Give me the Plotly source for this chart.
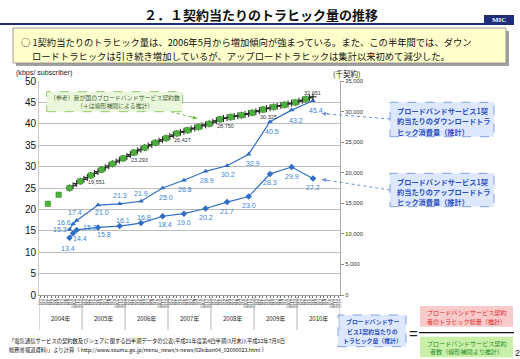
import plotly.graph_objects as go
import pandas as pd

# ---------------- data ----------------
years = [2004, 2005, 2006, 2007, 2008, 2009, 2010]
month_names = [f"{m}月" for m in range(1, 13)]

traffic_months = ["2004-09", "2004-10", "2004-11", "2005-05", "2005-11", "2006-05", "2006-11",
                  "2007-05", "2007-11", "2008-05", "2008-11", "2009-05", "2009-11", "2010-05"]
download_kbps = [15.3, 16.6, 17.4, 21.0, 21.3, 21.9, 25.0, 26.8, 28.9, 30.2, 32.9, 40.5, 43.2, 45.4]
upload_kbps = [13.4, 14.4, 15.2, 15.8, 16.1, 16.8, 18.4, 19.0, 20.2, 21.7, 23.0, 28.3, 29.9, 27.2]

quarter_months = ["2004-03", "2004-06", "2004-09", "2004-12", "2005-03", "2005-06", "2005-09", "2005-12",
                  "2006-03", "2006-06", "2006-09", "2006-12", "2007-03", "2007-06", "2007-09", "2007-12",
                  "2008-03", "2008-06", "2008-09", "2008-12", "2009-03", "2009-06", "2009-09", "2009-12",
                  "2010-03"]
subscribers_k = [14920, 16400, 17500, 18600, 19551, 20500, 21450, 22350,
                 23293, 24100, 24900, 25650, 26427, 26950, 27480, 28000,
                 28750, 29100, 29400, 29800, 30325, 30750, 31100, 31500,
                 32051]

est_first, est_last = "2004-09", "2010-05"
est_subscribers_k = [17500, 17867, 18233, 18600,
                     18917, 19234, 19551, 19867, 20184, 20500, 20817, 21133, 21450, 21750, 22050, 22350,
                     22664, 22979, 23293, 23562, 23831, 24100, 24367, 24633, 24900, 25150, 25400, 25650,
                     25909, 26168, 26427, 26601, 26776, 26950, 27127, 27303, 27480, 27653, 27827, 28000,
                     28250, 28500, 28750, 28867, 28983, 29100, 29200, 29300, 29400, 29533, 29667, 29800,
                     29975, 30150, 30325, 30467, 30608, 30750, 30867, 30983, 31100, 31233, 31367, 31500,
                     31684, 31867, 32051, 32235, 32419]
labelled_quarters = ["2005-03", "2006-03", "2007-03", "2008-03", "2009-03"]
end_label_quarter = "2010-03"

# label offsets (pixels, x right / y up) for the value labels
dl_label_shift = [(-9, 0), (-9, 1), (-2, 8), (4, -7), (0, 8), (0, 8), (3, -9), (1, -9), (1, -9),
                  (1, -9), (4, -9), (2, -10), (4, -10), (3, -10)]
ul_label_shift = [(-1, -11), (7, -5), (13, 2), (6, -7), (3, 6), (3, 6), (2, -8), (0, -9), (0, -9),
                  (0, -9), (0, -9), (0, -9), (0, -9), (0, -9)]

# ---------------- geometry helpers ----------------
W, H = 520, 359
L, R, T, B = 39, 340, 81, 295
JP = "Noto Sans CJK JP, Liberation Sans, sans-serif"
LAT = "Liberation Sans, Noto Sans CJK JP, sans-serif"


def px(x):
    return (x - L) / (R - L)


def py(y):
    return (B - y) / (B - T)


def mid(m):
    p = pd.Period(m, "M")
    return p.start_time + (p.end_time - p.start_time) / 2


est_months = [str(p) for p in pd.period_range(est_first, est_last, freq="M")]
all_months = [f"{y}-{m:02d}" for y in years for m in range(1, 13)]

BLUE = "#2f6ec4"
BLUE_T = "#3b84d8"

fig = go.Figure()
fig.add_trace(go.Scatter(
    x=[mid(m) for m in est_months], y=est_subscribers_k, yaxis="y2", mode="lines+markers",
    line=dict(color="#3a3a3a", width=1),
    marker=dict(symbol="cross-thin", size=5, line=dict(color="#202020", width=1)),
    hoverinfo="skip"))
fig.add_trace(go.Scatter(
    x=[mid(m) for m in quarter_months], y=subscribers_k, yaxis="y2", mode="markers",
    marker=dict(symbol="square", size=5.5, color="#4cb03c", line=dict(color="#3a8f2a", width=0.5))))
fig.add_trace(go.Scatter(
    x=[mid(m) for m in traffic_months], y=download_kbps, mode="lines+markers",
    line=dict(color=BLUE, width=1.2), marker=dict(symbol="triangle-up", size=5, color=BLUE)))
fig.add_trace(go.Scatter(
    x=[mid(m) for m in traffic_months], y=upload_kbps, mode="lines+markers",
    line=dict(color=BLUE, width=1.2), marker=dict(symbol="diamond", size=5, color=BLUE)))

shapes = []
ann = []

for series, shifts in ((download_kbps, dl_label_shift), (upload_kbps, ul_label_shift)):
    for m, v, (dx, dy) in zip(traffic_months, series, shifts):
        ann.append(dict(xref="x", yref="y", x=mid(m), y=v, text=f"{v:.1f}", showarrow=False,
                        xshift=dx, yshift=dy, font=dict(family=LAT, size=7, color=BLUE_T)))


def rect(x0, y0, x1, y1, fill, line=None, width=0.8, dash="solid"):
    shapes.append(dict(type="rect", xref="paper", yref="paper", x0=px(x0), x1=px(x1), y0=py(y1), y1=py(y0),
                       fillcolor=fill, line=dict(color=line or fill, width=width if line else 0, dash=dash),
                       layer="above"))


def text(x, y, s, size, color="#111", family=JP, xanchor="center", align="center"):
    ann.append(dict(xref="paper", yref="paper", x=px(x), y=py(y), text=s, showarrow=False, align=align,
                    xanchor=xanchor, yanchor="middle", font=dict(family=family, size=size, color=color)))


def dotted(x0, y0, x1, y1, color, ax, ay):
    shapes.append(dict(type="line", xref="paper", yref="paper", x0=px(x0), y0=py(y0), x1=px(x1), y1=py(y1),
                       line=dict(color=color, width=1, dash="dot"), layer="above"))
    ann.append(dict(xref="paper", yref="paper", x=px(x1), y=py(y1), text="", showarrow=True,
                    ax=ax, ay=ay, arrowhead=2, arrowsize=0.8, arrowwidth=1, arrowcolor=color))


# header
text(261, 14, "<b>２．１契約当たりのトラヒック量の推移</b>", 13)
shapes.append(dict(type="line", xref="paper", yref="paper", x0=px(0), x1=px(486), y0=py(24), y1=py(24),
                   line=dict(color="#1f2d7b", width=2)))
rect(484, 15, 514, 25, "#1f2d7b")
text(499, 20.3, "<b>MIC</b>", 7, "#ffffff", "Liberation Serif, serif")
rect(16, 31, 509, 66, "#a0a0a0")
rect(13, 28, 506, 63, "#ffffcc", "#8c8c8c", 0.8)
text(19, 42.2, "○ 1契約当たりのトラヒック量は、2006年5月から増加傾向が強まっている。また、この半年間では、ダウン",
     9.3, xanchor="left")
text(29.5, 55.5, "ロードトラヒックは引き続き増加しているが、アップロードトラヒックは集計以来初めて減少した。",
     9.3, xanchor="left")

# axis titles
text(14, 72.5, "(kbps/ subscriber)", 7.1, "#222", LAT, xanchor="left")
text(347, 73.5, "(千契約)", 7.5, "#222")

# reference box
rect(46.7, 91.7, 182.7, 111.7, "#ebf7dc", "#86c45a", 0.9, "dash")
text(114.7, 97.3, "（参考）我が国のブロードバンドサービス契約数", 5.9, "#3d5f2c")
text(114.7, 105.3, "（＋は線形補間による推計）", 5.9, "#3d5f2c")
dotted(171, 111.7, 197, 118.5, "#6dbb45", -7, -1.7)

# right side boxes
BT = "#2a4fc0"
rect(390, 102.3, 494, 136.7, "#dde8ff", "#7497e0", 0.9, "dash")
for yy, s in zip([110.7, 121.3, 131.5], ["ブロードバンドサービス1契", "約当たりのダウンロードトラ", "ヒック消費量（推計）"]):
    text(395, yy, f"<b>{s}</b>", 7.2, BT, xanchor="left")
rect(390, 173.3, 494, 206.7, "#dde8ff", "#7497e0", 0.9, "dash")
for yy, s in zip([181.7, 191.9, 201.7], ["ブロードバンドサービス1契", "約当たりのアップロードトラ", "ヒック消費量（推計）"]):
    text(395, yy, f"<b>{s}</b>", 7.2, BT, xanchor="left")
dotted(390, 119, 322, 113.5, "#6a8fd8", 8, 0.6)
dotted(390, 190, 322, 179.5, "#6a8fd8", 8, 1.2)

# bottom formula
rect(338, 315, 406, 346.7, "#dde8ff", "#7497e0", 0.9, "dash")
for yy, s in zip([321.7, 331, 340.3], ["ブロードバンドサー", "ビス1契約当たりの", "トラヒック量（推計）"]):
    text(372, yy, f"<b>{s}</b>", 5.9, BT)
text(413, 333, "=", 15, "#222", LAT)
rect(420, 306, 513, 326.7, "#f8caca")
text(466.5, 312.7, "ブロードバンドサービス契約", 6.1, "#e02828")
text(466.5, 321, "者のトラヒック総量（推計）", 6.1, "#e02828")
shapes.append(dict(type="line", xref="paper", yref="paper", x0=px(419), x1=px(514), y0=py(332.7), y1=py(332.7),
                   line=dict(color="#111", width=1.2)))
rect(420, 336.7, 513, 357.3, "#c8f0a8")
text(466.5, 343.7, "ブロードバンドサービス契約", 6.1, "#2a8a2a")
text(466.5, 352, "者数（線形補間より推計）", 6.1, "#2a8a2a")
text(517, 353, "2", 9, "#222", LAT)

# source
text(7, 340.5, "「電気通信サービスの契約数及びシェアに関する四半期データの公表(平成21年度第4四半期(3月末))(平成22年7月6日",
     5.3, "#111", xanchor="left")
text(7, 349.5, "総務省報道資料)」より計算（ http://www.soumu.go.jp/menu_news/s-news/02kiban04_02000023.html ）",
     5.3, "#111", xanchor="left")

# year separators and labels
for y in years + [years[-1] + 1]:
    shapes.append(dict(type="line", xref="x", yref="paper", x0=f"{y}-01-01", x1=f"{y}-01-01",
                       y0=py(297), y1=py(330), line=dict(color="#a0a0a0", width=0.8)))
for y in years:
    ann.append(dict(xref="x", yref="paper", x=f"{y}-07-01", y=py(325), text=f"{y}年", showarrow=False,
                    font=dict(family=JP, size=6, color="#222")))

# subscriber labels
for m in labelled_quarters:
    v = subscribers_k[quarter_months.index(m)]
    ann.append(dict(xref="x", yref="y2", x=mid(m), y=v, text=f"{v:,}", showarrow=False, xshift=6, yshift=-7,
                    font=dict(family=LAT, size=5.5, color="#333")))
v = subscribers_k[quarter_months.index(end_label_quarter)]
ann.append(dict(xref="x", yref="y2", x=mid(end_label_quarter), y=v, text=f"{v:,}", showarrow=False,
                xshift=7, yshift=6, font=dict(family=LAT, size=5.5, color="#333")))

fig.update_layout(
    width=W, height=H, margin=dict(l=L, r=W - R, t=T, b=H - B, pad=0),
    paper_bgcolor="white", plot_bgcolor="white", showlegend=False,
    xaxis=dict(type="date", range=["2004-01-01", "2011-01-01"],
               tickvals=[mid(m) for m in all_months], ticktext=month_names * len(years),
               tickangle=90, tickfont=dict(family=JP, size=4.3, color="#333"),
               ticks="outside", ticklen=2, tickcolor="#777", showgrid=False,
               showline=True, linecolor="#999", linewidth=1, automargin=False, zeroline=False),
    yaxis=dict(range=[0, 50], dtick=5, gridcolor="#bdbdbd", gridwidth=1.3, showline=True,
               linecolor="#c8c8c8", zeroline=False, tickfont=dict(family=LAT, size=10, color="#111"),
               automargin=False),
    yaxis2=dict(overlaying="y", side="right", range=[0, 35000], tickvals=list(range(0, 35001, 5000)),
                tickformat=",", tickfont=dict(family=LAT, size=5.8, color="#333"), ticks="outside",
                ticklen=3, tickcolor="#888", showgrid=False, showline=True, linecolor="#aaa",
                zeroline=False, automargin=False),
    shapes=shapes, annotations=ann,
)

fig.write_html("out.html", config={"displayModeBar": False},
               post_script="document.body.style.margin='0';document.body.style.overflow='hidden';")
